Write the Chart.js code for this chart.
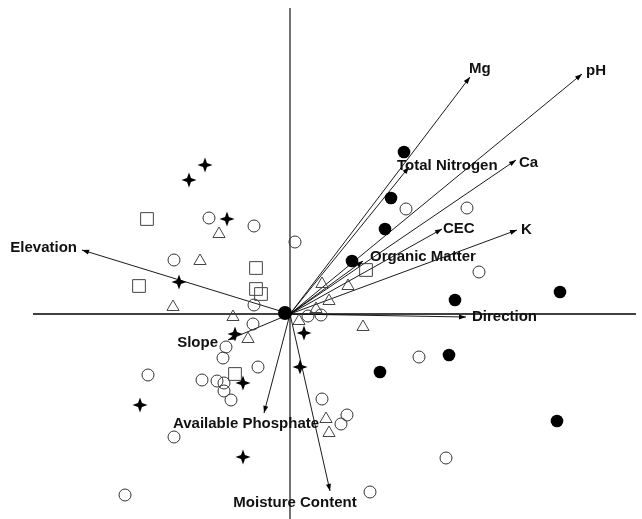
<!DOCTYPE html>
<html>
<head>
<meta charset="utf-8">
<script src="https://cdn.jsdelivr.net/npm/chart.js@4.4.0/dist/chart.umd.min.js"></script>
<style>
  body { margin: 0; background: #fff; }
  #wrap { width: 642px; height: 519px; }
</style>
</head>
<body>
<div id="wrap"><canvas id="ordination" width="642" height="519"></canvas></div>
<script>
// site scores, axis 1 / axis 2
const filledSites = [[1.14, 1.62], [1.01, 1.16], [0.95, 0.85], [0.62, 0.53], [1.65, 0.14],
  [2.70, 0.22], [1.59, -0.41], [0.90, -0.58], [2.67, -1.07]];
const centreSite = [[-0.05, 0.01]];
const starSites = [[-0.85, 1.49], [-1.01, 1.34], [-0.63, 0.95], [-1.11, 0.32], [-0.55, -0.20],
  [0.14, -0.19], [0.10, -0.53], [-0.47, -0.69], [-1.50, -0.91], [-0.47, -1.43]];
const squareSites = [[-1.43, 0.95], [-0.34, 0.46], [-1.51, 0.28], [-0.34, 0.25], [-0.29, 0.20],
  [-0.55, -0.60], [0.76, 0.44]];
const triangleSites = [[-0.71, 0.80], [-0.90, 0.53], [-1.17, 0.07], [-0.57, -0.03], [-0.42, -0.25],
  [0.32, 0.30], [0.58, 0.28], [0.39, 0.13], [0.26, 0.05], [0.09, -0.07], [0.73, -0.13],
  [0.36, -1.05], [0.39, -1.19]];
const circleSites = [[-0.81, 0.96], [-0.36, 0.88], [0.05, 0.72], [-1.16, 0.54], [1.16, 1.05],
  [1.77, 1.06], [1.89, 0.42], [-0.36, 0.09], [-0.37, -0.10], [-0.64, -0.33], [-0.67, -0.44],
  [-0.32, -0.53], [-1.42, -0.61], [-0.88, -0.66], [-0.73, -0.67], [-0.66, -0.69], [-0.66, -0.77],
  [-0.59, -0.86], [-1.16, -1.23], [-1.65, -1.81], [0.18, -0.02], [0.31, -0.01], [1.29, -0.43],
  [0.32, -0.85], [0.57, -1.01], [0.51, -1.10], [1.56, -1.44], [0.80, -1.78]];

// environmental vectors
const envNames = ["Mg", "pH", "Total Nitrogen", "Ca", "CEC", "K", "Organic Matter",
  "Direction", "Elevation", "Slope", "Available Phosphate", "Moisture Content"];
const envX = [1.80, 2.92, 1.19, 2.26, 1.52, 2.27, 0.73, 1.76, -2.08, -0.62, -0.26, 0.40];
const envY = [2.37, 2.40, 1.47, 1.54, 0.85, 0.84, 0.53, -0.03, 0.64, -0.26, -0.99, -1.77];

// axis line extents
const axisX = [-2.57, 3.46];
const axisY = [-2.05, 3.06];

// label placement: [align, dx, dy] in pixels from arrow tip
const labelPlace = [
  ["left", -1, -8], ["left", 4, -3], ["left", -12, -1], ["left", 3, 3], ["left", 1, 0],
  ["left", 4, 0], ["left", 7, -4], ["left", 6, 0], ["right", -5, -2], ["right", -10, 3],
  ["center", -18, 11], ["center", -35, 12]
];

function pts(arr) { return arr.map(p => ({ x: p[0], y: p[1] })); }

function makeStar() {
  const c = document.createElement("canvas");
  c.width = 16; c.height = 16;
  const g = c.getContext("2d");
  g.beginPath();
  for (let i = 0; i < 8; i++) {
    const a = i * Math.PI / 4 - Math.PI / 2;
    const r = i % 2 ? 2.8 : 7.5;
    g.lineTo(8 + r * Math.cos(a), 8 + r * Math.sin(a));
  }
  g.closePath();
  g.fillStyle = "#000";
  g.fill();
  return c;
}

const arrowPlugin = {
  id: "arrows",
  afterDatasetsDraw(chart) {
    const ctx = chart.ctx;
    const xs = chart.scales.x, ys = chart.scales.y;
    const ox = xs.getPixelForValue(0), oy = ys.getPixelForValue(0);
    ctx.save();
    for (let i = 0; i < envNames.length; i++) {
      const tx = xs.getPixelForValue(envX[i]);
      const ty = ys.getPixelForValue(envY[i]);
      const ang = Math.atan2(ty - oy, tx - ox);
      ctx.beginPath();
      ctx.moveTo(tx, ty);
      ctx.lineTo(tx - 7 * Math.cos(ang) + 2.5 * Math.sin(ang), ty - 7 * Math.sin(ang) - 2.5 * Math.cos(ang));
      ctx.lineTo(tx - 7 * Math.cos(ang) - 2.5 * Math.sin(ang), ty - 7 * Math.sin(ang) + 2.5 * Math.cos(ang));
      ctx.closePath();
      ctx.fillStyle = "#000";
      ctx.fill();
      const lp = labelPlace[i];
      ctx.font = "bold 15px 'Liberation Sans', Arial, sans-serif";
      ctx.fillStyle = "#111";
      ctx.textAlign = lp[0];
      ctx.textBaseline = "middle";
      ctx.fillText(envNames[i], tx + lp[1], ty + lp[2]);
    }
    ctx.restore();
  }
};

const datasets = [];
datasets.push({ data: pts(centreSite), pointStyle: "circle", pointRadius: 7, backgroundColor: "#000", borderColor: "#000", borderWidth: 0 });
datasets.push({ data: pts(filledSites), pointStyle: "circle", pointRadius: 6.3, backgroundColor: "#000", borderColor: "#000", borderWidth: 0 });
datasets.push({ data: pts(starSites), pointStyle: makeStar(), pointRadius: 8 });
datasets.push({ data: pts(squareSites), pointStyle: "rect", pointRadius: 9, backgroundColor: "rgba(0,0,0,0)", borderColor: "#444", borderWidth: 1 });
datasets.push({ data: pts(triangleSites), pointStyle: "triangle", pointRadius: 7, backgroundColor: "rgba(0,0,0,0)", borderColor: "#444", borderWidth: 1 });
datasets.push({ data: pts(circleSites), pointStyle: "circle", pointRadius: 6, backgroundColor: "rgba(0,0,0,0)", borderColor: "#333", borderWidth: 1 });
envNames.forEach((n, i) => {
  datasets.push({ data: [{ x: 0, y: 0 }, { x: envX[i], y: envY[i] }], showLine: true, borderColor: "#000", borderWidth: 0.9, pointRadius: 0 });
});
datasets.push({ data: [{ x: axisX[0], y: 0 }, { x: axisX[1], y: 0 }], showLine: true, borderColor: "#000", borderWidth: 1.3, pointRadius: 0 });
datasets.push({ data: [{ x: 0, y: axisY[0] }, { x: 0, y: axisY[1] }], showLine: true, borderColor: "#000", borderWidth: 1.1, pointRadius: 0 });

new Chart(document.getElementById("ordination"), {
  type: "scatter",
  data: { datasets: datasets },
  options: {
    responsive: false,
    animation: false,
    devicePixelRatio: 1,
    layout: { padding: 0, autoPadding: false },
    plugins: { legend: { display: false }, tooltip: { enabled: false } },
    scales: {
      x: { type: "linear", min: -2.90, max: 3.52, display: false },
      y: { type: "linear", min: -2.05, max: 3.14, display: false }
    },
    elements: { point: { hoverRadius: 0 } }
  },
  plugins: [arrowPlugin]
});
</script>
</body>
</html>
